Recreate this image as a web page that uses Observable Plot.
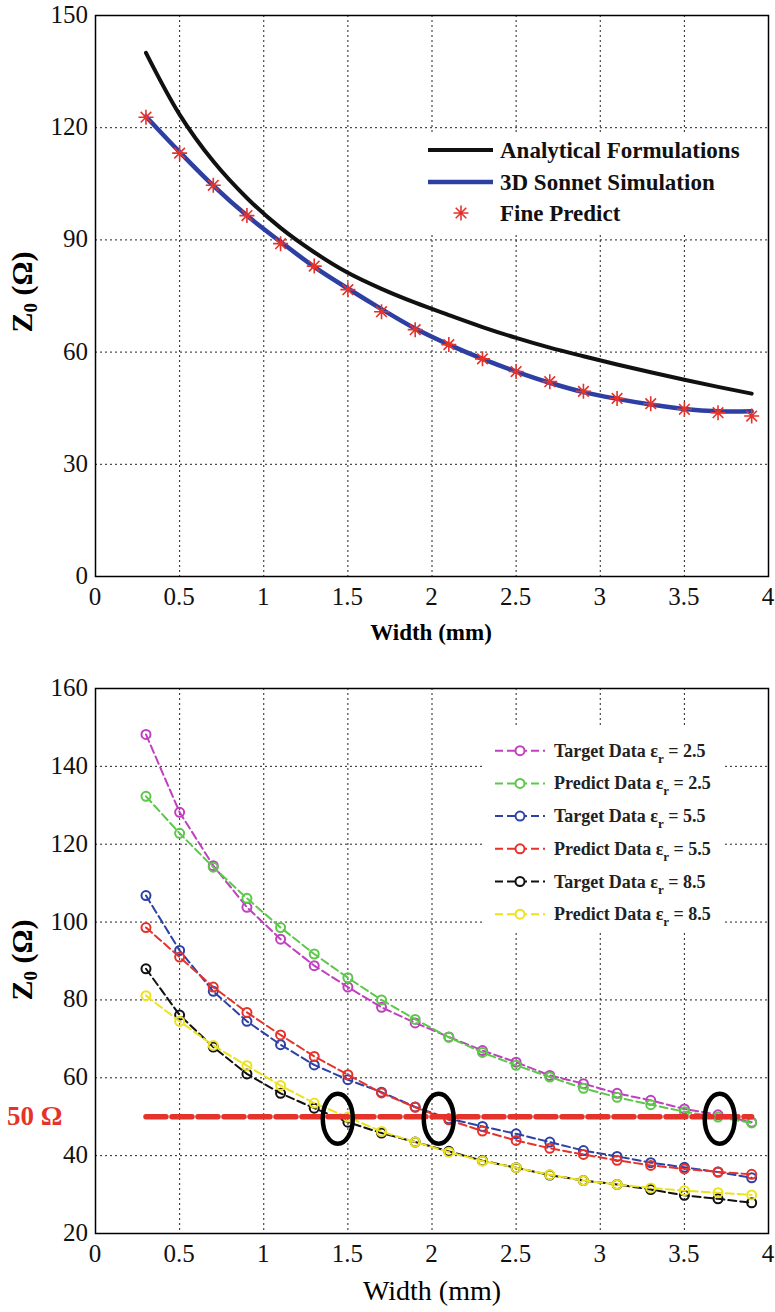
<!DOCTYPE html>
<html><head><meta charset="utf-8">
<script src="https://cdn.jsdelivr.net/npm/d3@7"></script>
<script src="https://cdn.jsdelivr.net/npm/@observablehq/plot@0.6"></script>
<style>
body{margin:0;background:#fff;}
#wrap{position:relative;width:775px;height:1312px;}
#wrap svg{display:block;}
</style></head><body><div id="wrap"></div>
<script>
// ---------- Top chart data ----------
const widthTop = [0.3,0.5,0.7,0.9,1.1,1.3,1.5,1.7,1.9,2.1,2.3,2.5,2.7,2.9,3.1,3.3,3.5,3.7,3.9];
const analytical = [140,123.5,111,101.2,93.2,86.7,81.2,76.9,73.2,69.9,66.7,63.8,61.2,58.9,56.7,54.6,52.6,50.7,48.9];
const sonnet = [123,113.5,104.5,96.5,89.5,82.8,77,71.5,66.3,62,58.2,54.8,51.8,49.3,47.5,46,44.8,44.2,44.2];
const finePredict = [122.8,113.2,104.6,96.5,89,83,76.7,70.8,66,62,58.2,54.8,52.1,49.5,47.6,46.2,44.7,43.8,42.9];
const topXTicks = [0,0.5,1,1.5,2,2.5,3,3.5,4];
const topYTicks = [0,30,60,90,120,150];
const topLegend = ["Analytical Formulations","3D Sonnet Simulation","Fine Predict"];

// ---------- Bottom chart data ----------
const widthBot = [0.3,0.5,0.7,0.9,1.1,1.3,1.5,1.7,1.9,2.1,2.3,2.5,2.7,2.9,3.1,3.3,3.5,3.7,3.9];
const target25  = [148.2,128.2,114.5,103.8,95.6,88.8,83.3,78.1,74.1,70.5,67.0,64.0,60.6,58.5,56.0,54.2,52.0,50.5,48.6];
const predict25 = [132.3,122.8,114.1,106.1,98.6,91.8,85.7,80.0,75.0,70.4,66.5,63.2,60.2,57.3,55.0,53.1,51.3,49.9,48.4];
const target55  = [106.8,92.7,82.2,74.5,68.5,63.3,59.5,56.3,52.5,49.5,47.5,45.6,43.5,41.3,39.8,38.2,37.0,35.8,34.3];
const predict55 = [98.6,91.0,83.3,76.8,71.0,65.5,60.8,56.1,52.4,49.2,46.3,43.9,41.9,40.3,38.8,37.5,36.6,35.8,35.2];
const target85  = [88.0,76.1,67.9,61.0,56.0,52.2,48.6,45.8,43.5,41.1,38.7,36.9,35.0,33.6,32.6,31.3,29.8,28.9,27.9];
const predict85 = [81.1,74.5,68.3,63.1,58.0,53.5,49.9,46.2,43.5,40.9,38.6,36.9,35.1,33.6,32.6,31.7,31.0,30.5,29.9];
const seriesLabels = ["Target Data","Predict Data","Target Data","Predict Data","Target Data","Predict Data"];
const seriesEps = ["2.5","2.5","5.5","5.5","8.5","8.5"];
const botXTicks = [0,0.5,1,1.5,2,2.5,3,3.5,4];
const botYTicks = [20,40,60,80,100,120,140,160];
const refWidths = [0.3,3.9];
const refZ = 50;
const refLabel = "50 Ω";
const ellipseWidths = [1.44,2.04,3.71];
const ellipseZ = 49.5;

// ---------- styles ----------
const FONT = "'Liberation Serif', serif";
const seriesColors = ["#c040c0","#5cc84a","#2e42a6","#e5332b","#111111","#ece21e"];
const seriesData = [target25,predict25,target55,predict55,target85,predict85];

const starSym = {draw(ctx,size){const r=Math.sqrt(size/Math.PI),d=r*0.7071;
  ctx.moveTo(-r,0);ctx.lineTo(r,0);ctx.moveTo(0,-r);ctx.lineTo(0,r);
  ctx.moveTo(-d,-d);ctx.lineTo(d,d);ctx.moveTo(-d,d);ctx.lineTo(d,-d);}};
const ellSym = {draw(ctx,size){const ry=Math.sqrt(size/Math.PI),rx=ry*0.6,k=0.5523;
  ctx.moveTo(rx,0);ctx.bezierCurveTo(rx,k*ry,k*rx,ry,0,ry);ctx.bezierCurveTo(-k*rx,ry,-rx,k*ry,-rx,0);
  ctx.bezierCurveTo(-rx,-k*ry,-k*rx,-ry,0,-ry);ctx.bezierCurveTo(k*rx,-ry,rx,-k*ry,rx,0);ctx.closePath();}};

const gridStyle = {stroke:"#222",strokeOpacity:1,strokeDasharray:"2,3",strokeWidth:1};
const plotStyle = "font-family:'Liberation Serif',serif;font-size:25px";

// ---------- Top plot ----------
const topRows = widthTop.map((w,i)=>({w,a:analytical[i],s:sonnet[i],f:finePredict[i]}));
const topChart = Plot.plot({
  width:775,height:660,marginLeft:95,marginRight:7,marginTop:15,marginBottom:84,
  style:plotStyle,
  x:{domain:[0,4],axis:null},y:{domain:[0,150],axis:null},
  marks:[
    Plot.gridX(topXTicks,gridStyle),
    Plot.gridY(topYTicks,gridStyle),
    Plot.line(topRows,{x:"w",y:"a",stroke:"#111",strokeWidth:4,curve:"catmull-rom"}),
    Plot.line(topRows,{x:"w",y:"s",stroke:"#2e3fa3",strokeWidth:4.5,curve:"catmull-rom"}),
    Plot.dot(topRows,{x:"w",y:"f",symbol:starSym,r:7.5,stroke:"#e5332b",strokeWidth:1.6,fill:"none"}),
    Plot.frame({stroke:"black",strokeWidth:1.5})
  ]
});

// ---------- Bottom plot ----------
const botMarks = [Plot.gridX(botXTicks,gridStyle),Plot.gridY(botYTicks,gridStyle)];
seriesData.forEach((vals,i)=>{
  const rows = widthBot.map((w,j)=>({w,z:vals[j]}));
  botMarks.push(Plot.line(rows,{x:"w",y:"z",stroke:seriesColors[i],strokeWidth:2,strokeDasharray:"8,4"}));
  botMarks.push(Plot.dot(rows,{x:"w",y:"z",r:4.5,stroke:seriesColors[i],strokeWidth:2,fill:"none"}));
});
botMarks.push(Plot.line(refWidths.map(w=>({w,z:refZ})),{x:"w",y:"z",stroke:"#e5332b",strokeWidth:5.5,strokeDasharray:"20,6"}));
botMarks.push(Plot.dot(ellipseWidths.map(w=>({w,z:ellipseZ})),{x:"w",y:"z",symbol:ellSym,r:25,stroke:"black",strokeWidth:4.5,fill:"none"}));
botMarks.push(Plot.frame({stroke:"black",strokeWidth:1.5}));
const botChart = Plot.plot({
  width:775,height:652,marginLeft:95,marginRight:7,marginTop:28,marginBottom:79,
  style:plotStyle,
  x:{domain:[0,4],axis:null},y:{domain:[20,160],axis:null},
  marks:botMarks
});

const wrap = document.getElementById("wrap");
wrap.appendChild(topChart); wrap.appendChild(botChart);

// ---------- Labels & legends ----------
function txt(sel,x,y,anchor,size,bold,fill){
  return sel.append("text").attr("x",x).attr("y",y).attr("text-anchor",anchor)
    .style("font-family",FONT).style("font-size",size+"px").attr("font-weight",bold?"bold":"normal").attr("fill",fill||"black");
}
// tick labels placed through Plot's own scales
function drawTicks(chart,xt,yt){
  const sel = d3.select(chart), sx = chart.scale("x"), sy = chart.scale("y");
  const bottom = Math.max(...sy.range), left = Math.min(...sx.range);
  xt.forEach(v=>txt(sel,sx.apply(v),bottom+11,"middle",25,false,"#111").attr("dy","0.71em").text(String(v)));
  yt.forEach(v=>txt(sel,left-7,sy.apply(v),"end",25,false,"#111").attr("dy","0.32em").text(String(v)));
}
drawTicks(topChart,topXTicks,topYTicks);
drawTicks(botChart,botXTicks,botYTicks);

function yLabel(svg,cx,cy){
  const t = d3.select(svg).append("text").attr("transform",`translate(${cx},${cy}) rotate(-90)`)
    .attr("text-anchor","middle").style("font-family",FONT).attr("font-weight","bold").style("font-size","30px").attr("fill","black");
  t.append("tspan").text("Z");
  t.append("tspan").style("font-size","19px").attr("dy",5).text("0");
  t.append("tspan").attr("dy",-5).text(" (Ω)");
}
const sTop = d3.select(topChart), sBot = d3.select(botChart);
yLabel(topChart,32,292);
yLabel(botChart,32,300);
txt(sTop,431,640,"middle",23,true).text("Width (mm)");
txt(sBot,432,640,"middle",28,false).text("Width (mm)");

// top legend
sTop.append("rect").attr("x",421).attr("y",133).attr("width",345).attr("height",100).attr("fill","white");
const legY = [150,182,213];
sTop.append("line").attr("x1",428).attr("x2",493).attr("y1",legY[0]).attr("y2",legY[0]).attr("stroke","#111").attr("stroke-width",4);
sTop.append("line").attr("x1",428).attr("x2",493).attr("y1",legY[1]).attr("y2",legY[1]).attr("stroke","#2e3fa3").attr("stroke-width",4.5);
sTop.append("path").attr("transform",`translate(461,${legY[2]})`).attr("d",d3.symbol(starSym,Math.PI*56)()).attr("stroke","#e5332b").attr("stroke-width",1.6).attr("fill","none");
topLegend.forEach((t,i)=>{ txt(sTop,500,legY[i]+8,"start",23,true,"#111").text(t); });

// bottom legend
sBot.append("rect").attr("x",484).attr("y",68).attr("width",238).attr("height",202).attr("fill","white");
seriesLabels.forEach((lab,i)=>{
  const y = 90.7 + i*32.7;
  sBot.append("line").attr("x1",495).attr("x2",545).attr("y1",y).attr("y2",y).attr("stroke",seriesColors[i]).attr("stroke-width",2).attr("stroke-dasharray","8,4");
  sBot.append("circle").attr("cx",520).attr("cy",y).attr("r",4.5).attr("stroke",seriesColors[i]).attr("stroke-width",2).attr("fill","white");
  const t = txt(sBot,554,y+6,"start",18,true,"#222");
  t.append("tspan").text(lab+" ε");
  t.append("tspan").style("font-size","13px").attr("dy",6).text("r");
  t.append("tspan").attr("dy",-6).text(" = "+seriesEps[i]);
});
txt(sBot,7,465,"start",27,true,"#e5332b").text(refLabel);
</script></body></html>
